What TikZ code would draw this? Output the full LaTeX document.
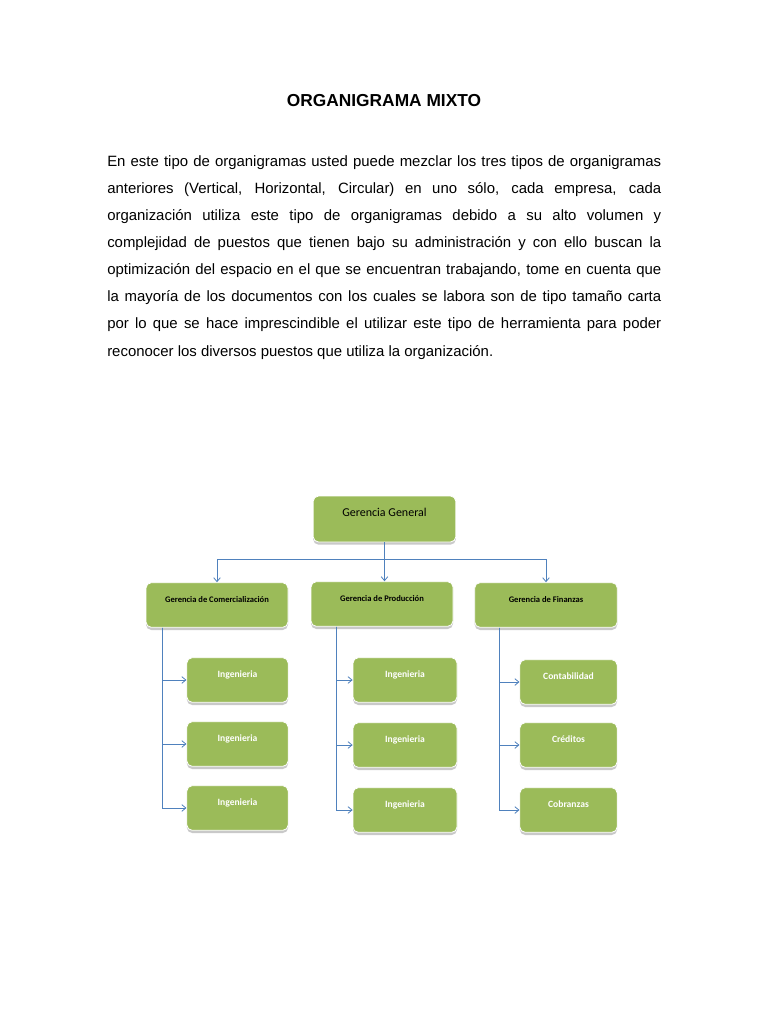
\documentclass[tikz,border=0pt]{standalone}
\usepackage{fontspec}
\setmainfont{Liberation Sans}
\newfontfamily\calibri{Carlito}
\usetikzlibrary{arrows.meta,shadows}
\definecolor{olivebox}{HTML}{9BBB59}
\definecolor{linkblue}{HTML}{4F81BD}

\begin{document}
\begin{tikzpicture}[x=0.75pt,y=-0.75pt,>={Straight Barb[length=3pt,width=5pt]},
  b/.style={fill=olivebox,draw=white,line width=0.6pt,rounded corners=4pt,
    drop shadow={shadow xshift=0pt,shadow yshift=-2pt,fill=black!35,opacity=.6},
    inner xsep=2pt,inner ysep=0pt,text height=14.5pt,text depth=19pt,
    font=\calibri\fontsize{6.4}{7}\selectfont\bfseries,align=center},
  sub/.style={b,text=white,font=\calibri\fontsize{7.2}{8}\selectfont\bfseries},
  l/.style={->,draw=linkblue,line width=0.6pt}]
\useasboundingbox[fill=white] (0,0) rectangle (768,1024);
\node[font=\fontsize{13}{15}\selectfont\bfseries] (title) at (384,101) {ORGANIGRAMA MIXTO};
\node[text width=415.5pt,align=justify,inner sep=0pt,anchor=north west,
  font=\fontsize{11.2}{20.3}\selectfont] (txt) at (107,155.5)
  {En este tipo de organigramas usted puede mezclar los tres tipos de organigramas\linebreak
  anteriores (Vertical, Horizontal, Circular) en uno sólo, cada empresa, cada\linebreak
  organización utiliza este tipo de organigramas debido a su alto volumen y\linebreak
  complejidad de puestos que tienen bajo su administración y con ello buscan la\linebreak
  optimización del espacio en el que se encuentran trabajando, tome en cuenta que\linebreak
  la mayoría de los documentos con los cuales se labora son de tipo tamaño carta\linebreak
  por lo que se hace imprescindible el utilizar este tipo de herramienta para poder\linebreak
  reconocer los diversos puestos que utiliza la organización.};
% top level
\node[b,minimum width=107pt,font=\calibri\fontsize{9}{10}\selectfont,text height=15.5pt,text depth=19pt] (gg) at (384.5,519) {Gerencia General};
\node[b,minimum width=106.5pt] (gc) at (217,605) {Gerencia de Comercialización};
\node[b,minimum width=106.5pt] (gp) at (382,604) {Gerencia de Producción};
\node[b,minimum width=107pt] (gf) at (546,605) {Gerencia de Finanzas};
% second level
\node[sub,minimum width=76pt] (c1) at (237.5,680) {Ingenieria};
\node[sub,minimum width=76pt] (c2) at (237.5,744) {Ingenieria};
\node[sub,minimum width=76pt] (c3) at (237.5,808) {Ingenieria};
\node[sub,minimum width=78pt] (p1) at (405,680) {Ingenieria};
\node[sub,minimum width=78pt] (p2) at (405,745) {Ingenieria};
\node[sub,minimum width=78pt] (p3) at (405,810) {Ingenieria};
\node[sub,minimum width=73pt] (f1) at (568.5,682) {Contabilidad};
\node[sub,minimum width=73pt] (f2) at (568.5,745) {Créditos};
\node[sub,minimum width=73pt] (f3) at (568.5,810) {Cobranzas};
% links
\coordinate (bus) at (384.5,559);
\draw[l] (gg.south) -- (gg.south |- gp.north);
\draw[l] (bus) -| (gc.north);
\draw[l] (bus) -| (gf.north);
\foreach \n in {1,2,3} {
  \draw[l] ([xshift=12.75pt]gc.south west) |- (c\n.west);
  \draw[l] ([xshift=19.5pt]gp.south west) |- (p\n.west);
  \draw[l] ([xshift=18.75pt]gf.south west) |- (f\n.west);
}
\end{tikzpicture}
\end{document}
